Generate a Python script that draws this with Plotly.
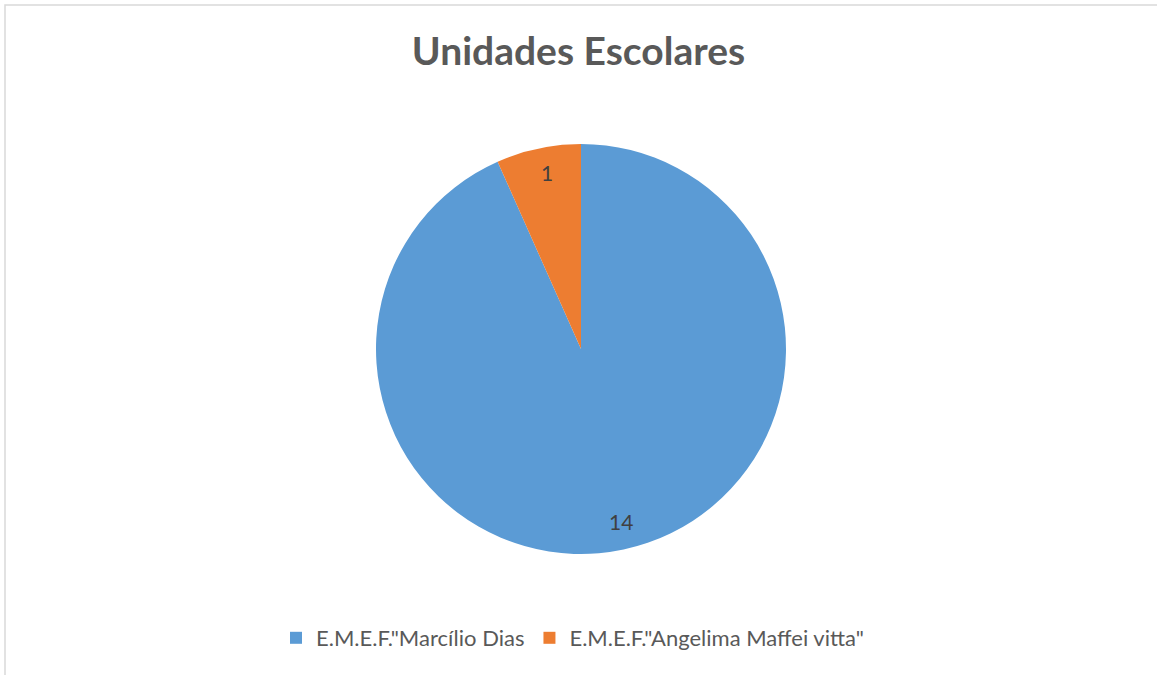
import math
import plotly.graph_objects as go

# ---- data ----
labels = ['E.M.E.F."Marcílio Dias', 'E.M.E.F."Angelima Maffei vitta"']
values = [14, 1]
colors = ["#5B9BD5", "#ED7D31"]
title_text = "Unidades Escolares"

W, H = 1157, 675
cx_px, cy_px, R_px = 581, 349, 205

dom_x = [(cx_px - R_px) / W, (cx_px + R_px) / W]
dom_y = [1 - (cy_px + R_px) / H, 1 - (cy_px - R_px) / H]

fig = go.Figure()
fig.add_trace(go.Pie(
    labels=labels,
    values=values,
    sort=False,
    direction="clockwise",
    rotation=0,
    marker=dict(colors=colors, line=dict(width=0)),
    textinfo="none",
    hoverinfo="label+value",
    domain=dict(x=dom_x, y=dom_y),
))

# data labels placed near each slice's outer edge ("inside end" style)
annotations = []
total = sum(values)
cum = 0
for v in values:
    mid = (cum + v / 2) / total * 2 * math.pi
    cum += v
    r = 0.87 * R_px
    px = cx_px + r * math.sin(mid) + 3
    py = cy_px - r * math.cos(mid) - 2
    annotations.append(dict(
        x=px / W, y=1 - py / H, xref="paper", yref="paper",
        text=str(v), showarrow=False,
        font=dict(family="Lato", size=21, color="#404040"),
        xanchor="center", yanchor="middle",
    ))

fig.update_layout(
    width=W, height=H,
    margin=dict(l=0, r=0, t=0, b=0),
    paper_bgcolor="white",
    plot_bgcolor="white",
    title=dict(
        text="<b>" + title_text + "</b>",
        x=0.5, xanchor="center",
        y=1 - 51 / H, yanchor="middle",
        font=dict(family="Lato", size=39, color="#595959"),
    ),
    legend=dict(
        orientation="h",
        x=276 / W, xanchor="left",
        y=1 - 638 / H, yanchor="middle",
        font=dict(family="Lato", size=22, color="#595959"),
        bgcolor="rgba(0,0,0,0)",
    ),
    annotations=annotations,
    shapes=[dict(
        type="rect", xref="paper", yref="paper",
        x0=5 / W, x1=1.02, y0=-0.02, y1=1 - 5 / H,
        line=dict(color="#D9D9D9", width=1.5),
        fillcolor="rgba(0,0,0,0)", layer="below",
    )],
)

fig.write_html("out.html")
